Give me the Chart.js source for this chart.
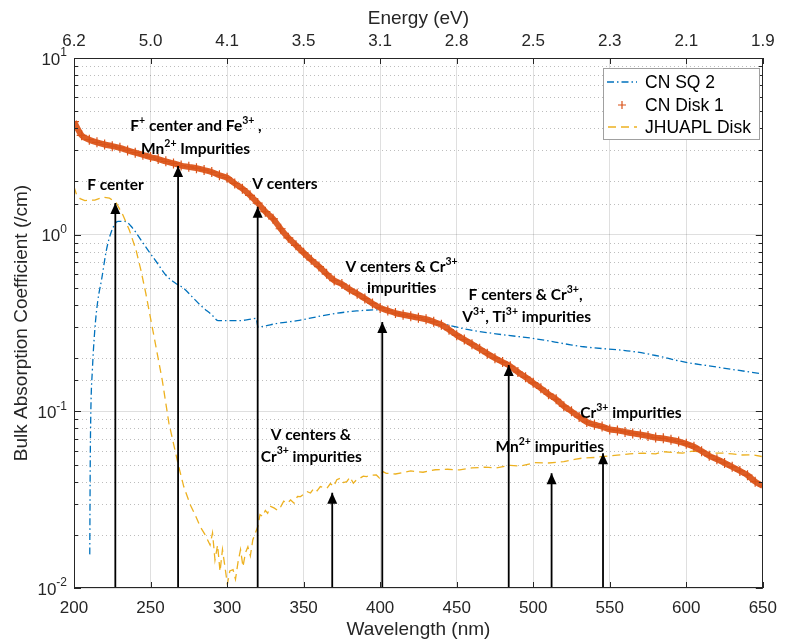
<!DOCTYPE html>
<html lang="en">
<head>
<meta charset="UTF-8">
<title>Bulk Absorption Coefficient</title>
<script src="https://cdn.jsdelivr.net/npm/chart.js"></script>
<style>
  body { margin: 0; background: #fff; }
  #wrap { width: 787px; height: 644px; position: relative; }
</style>
</head>
<body>
<div id="wrap"><canvas id="chart"></canvas></div>
<script>
// --- axis ticks ---
const wavelengthTicks = [200, 250, 300, 350, 400, 450, 500, 550, 600, 650];
const energyLabels = ['6.2', '5.0', '4.1', '3.5', '3.1', '2.8', '2.5', '2.3', '2.1', '1.9'];
const decadeValues = [10, 1, 0.1, 0.01];
const decadeExponents = ['1', '0', '-1', '-2'];

// --- CN SQ 2 ---
const cnSq2Wl = [210.3, 210.6, 211.0, 212.0, 213.6, 215.5, 218.0, 221.2, 224.4, 228.7, 233.0, 238.3, 243.7, 249.1,
  254.5, 259.9, 266.3, 271.7, 277.1, 283.5, 290.0, 294.3, 298.6, 307.2, 313.6, 319.0, 320.2, 333.0, 345.9,
  358.8, 371.7, 384.6, 397.5, 404.0, 416.9, 425.5, 436.3, 457.8, 479.3, 500.8, 524.5, 533.0, 565.4, 580.0,
  597.7, 620.0, 649.5];
const cnSq2Abs = [0.0155, 0.05, 0.1, 0.171, 0.29, 0.42, 0.555, 0.82, 1.04, 1.19, 1.19, 1.09, 0.933, 0.80,
  0.689, 0.591, 0.531, 0.497, 0.446, 0.392, 0.352, 0.326, 0.326, 0.326, 0.33, 0.336, 0.301, 0.315, 0.326,
  0.343, 0.359, 0.370, 0.375, 0.372, 0.35, 0.336, 0.32, 0.29, 0.272, 0.258, 0.238, 0.232, 0.218, 0.207,
  0.191, 0.178, 0.163];

// --- CN Disk 1 ---
const cnDiskWl = [200, 205, 210, 215, 220, 225, 230, 235, 240, 245, 250, 255, 260, 265, 270, 275, 280, 285,
  290, 295, 300, 305, 310, 315, 320, 325, 330, 335, 340, 345, 350, 355, 360, 365, 370, 375, 380, 385, 390,
  395, 400, 405, 410, 415, 420, 425, 430, 435, 440, 445, 450, 455, 460, 465, 470, 475, 480, 485, 490, 495,
  500, 505, 510, 515, 520, 525, 530, 535, 540, 545, 550, 555, 560, 565, 570, 575, 580, 585, 590, 595, 600,
  605, 610, 615, 620, 625, 630, 635, 640, 645, 650];
const cnDiskAbs = [4.36, 3.65, 3.45, 3.33, 3.24, 3.17, 3.10, 3.00, 2.91, 2.83, 2.75, 2.68, 2.60, 2.53, 2.46,
  2.42, 2.38, 2.32, 2.26, 2.17, 2.10, 1.95, 1.82, 1.67, 1.51, 1.35, 1.23, 1.08, 0.96, 0.87, 0.79, 0.72,
  0.66, 0.60, 0.55, 0.525, 0.49, 0.463, 0.435, 0.408, 0.385, 0.372, 0.360, 0.352, 0.345, 0.339, 0.332,
  0.321, 0.309, 0.290, 0.270, 0.255, 0.240, 0.226, 0.212, 0.200, 0.190, 0.180, 0.167, 0.156, 0.145, 0.135,
  0.125, 0.117, 0.107, 0.100, 0.093, 0.087, 0.084, 0.082, 0.079, 0.078, 0.0765, 0.075, 0.074, 0.0725,
  0.071, 0.0703, 0.069, 0.0675, 0.0655, 0.063, 0.0595, 0.056, 0.0535, 0.051, 0.0485, 0.046, 0.0435,
  0.040, 0.0378];

// --- JHUAPL Disk ---
const jhuWl = [200, 201.7, 204, 207.1, 213.6, 218.9, 223.2, 227.6, 231.8, 236.2, 240.5, 243.7, 246.9, 250.2,
  252.3, 257.6, 262.0, 268.4, 271.7, 276.0, 279.2, 282.4, 285.7, 288.9, 290.5, 292.1, 293.8, 295.4, 297,
  298.6, 300.2, 301.8, 303.9, 305.5, 307.2, 308.8, 310.4, 312, 313.6, 315.2, 316.8, 318.5, 320.1, 321.5,
  323.3, 325, 326.5, 328.5, 330.9, 333, 335.1, 337, 339.4, 341.5, 343.8, 346, 348.0, 350.2, 352.4, 354.5,
  356.7, 358.8, 360.9, 363, 365.3, 367.5, 369.6, 371.7, 373.9, 376, 378.2, 380.3, 382.5, 384.6, 386.8, 389,
  391.1, 394, 397.5, 399.5, 401.9, 404, 410, 420, 428, 436, 444, 452, 460, 468.6, 476, 485, 492, 501, 510,
  520, 527, 533, 540, 546, 555, 563, 572, 580, 584.8, 591, 597.7, 604, 610.6, 617, 623.5, 630, 636.4, 643,
  649.3];
const jhuAbs = [1.87, 1.68, 1.6, 1.56, 1.57, 1.63, 1.61, 1.51, 1.30, 1.06, 0.82, 0.63, 0.466, 0.329,
  0.265, 0.151, 0.0857, 0.0487, 0.0375, 0.0295, 0.0259, 0.0223, 0.020, 0.0175, 0.0205, 0.0144, 0.0175,
  0.0124, 0.0165, 0.0132, 0.0105, 0.0125, 0.0127, 0.0112, 0.0141, 0.0165, 0.0132, 0.0158, 0.0171, 0.0152,
  0.0187, 0.0205, 0.0223, 0.026, 0.0254, 0.0275, 0.0265, 0.029, 0.0283, 0.0275, 0.0289, 0.031, 0.0302,
  0.0315, 0.0302, 0.033, 0.0329, 0.034, 0.0351, 0.0345, 0.0367, 0.0355, 0.0375, 0.037, 0.0367, 0.039,
  0.0375, 0.041, 0.0418, 0.0395, 0.040, 0.0425, 0.0392, 0.041, 0.0418, 0.043, 0.0427, 0.0435, 0.0436,
  0.042, 0.0456, 0.0446, 0.0442, 0.046, 0.0452, 0.0467, 0.047, 0.0466, 0.0478, 0.0483, 0.0478, 0.0495,
  0.049, 0.0513, 0.051, 0.0519, 0.0535, 0.0545, 0.0548, 0.0555, 0.0565, 0.0575, 0.058, 0.0575, 0.0591,
  0.0585, 0.058, 0.0595, 0.059, 0.058, 0.058, 0.0575, 0.0566, 0.0568, 0.0555];

// --- annotation arrows (wavelength, tip value) ---
const arrowWl = [227, 268, 320, 368.7, 401.4, 484, 512, 545.6];
const arrowTip = [1.51, 2.45, 1.44, 0.0346, 0.32, 0.183, 0.0446, 0.058];

const labels = [
  { text: 'F center', wl: 227.1, v: 1.91 },
  { text: 'F^{+} center and Fe^{3+} ,', wl: 279.7, v: 4.12 },
  { text: 'Mn^{2+} Impurities', wl: 279.4, v: 3.04 },
  { text: 'V centers', wl: 337.8, v: 1.93 },
  { text: 'V centers & Cr^{3+}', wl: 414, v: 0.656 },
  { text: 'impurities', wl: 414, v: 0.499 },
  { text: 'F centers & Cr^{3+},', wl: 495, v: 0.456 },
  { text: 'V^{3+}, Ti^{3+} impurities', wl: 495.7, v: 0.343 },
  { text: 'Cr^{3+} impurities', wl: 563.8, v: 0.0975 },
  { text: 'V centers &', wl: 354.7, v: 0.0734 },
  { text: 'Cr^{3+} impurities', wl: 355, v: 0.0555 },
  { text: 'Mn^{2+} impurities', wl: 510.8, v: 0.063 }
];

const AXIS = '#262626';
const BLUE = '#0072BD', ORANGE = '#D95319', YELLOW = '#EDB120';
const BLUE_DASH = [7, 3, 1.5, 3], YELLOW_DASH = [8, 5];
const FONT = '"Liberation Sans", Arial, sans-serif';

const pts = (xs, ys) => xs.map((x, i) => ({ x: x, y: ys[i] }));
const isDecade = v => { const l = Math.log10(v); return Math.abs(l - Math.round(l)) < 1e-6; };

function drawRich(ctx, str, cx, cy) {
  const parts = str.split(/\^\{([^}]*)\}/);
  const base = 'bold 15.5px Lato, sans-serif', sup = 'bold 10.5px Lato, sans-serif';
  let total = 0;
  parts.forEach((p, i) => { ctx.font = i % 2 ? sup : base; total += ctx.measureText(p).width; });
  let x = cx - total / 2;
  ctx.textAlign = 'left';
  ctx.textBaseline = 'middle';
  parts.forEach((p, i) => {
    ctx.font = i % 2 ? sup : base;
    ctx.fillText(p, x, i % 2 ? cy - 5.5 : cy);
    x += ctx.measureText(p).width;
  });
}

const matlabLook = {
  id: 'matlabLook',
  beforeDatasetsDraw(chart) {
    const { ctx, chartArea: a, scales: { y } } = chart;
    ctx.save();
    ctx.strokeStyle = 'rgba(38,38,38,0.3)';
    ctx.lineWidth = 1;
    ctx.setLineDash([1, 3]);
    y.ticks.forEach(t => {
      if (isDecade(t.value)) return;
      const py = Math.round(y.getPixelForValue(t.value)) + 0.5;
      ctx.beginPath(); ctx.moveTo(a.left, py); ctx.lineTo(a.right, py); ctx.stroke();
    });
    ctx.restore();
  },
  afterDatasetsDraw(chart) {
    const { ctx, scales: { x, y } } = chart;
    ctx.save();
    ctx.fillStyle = '#000';
    arrowWl.forEach((w, i) => {
      const px = x.getPixelForValue(w), py = y.getPixelForValue(arrowTip[i]);
      ctx.beginPath();
      ctx.moveTo(px, py);
      ctx.lineTo(px - 5, py + 11);
      ctx.lineTo(px + 5, py + 11);
      ctx.closePath();
      ctx.fill();
    });
    labels.forEach(l => drawRich(ctx, l.text, x.getPixelForValue(l.wl), y.getPixelForValue(l.v)));
    ctx.restore();
  },
  afterDraw(chart) {
    const { ctx, chartArea: a, scales: { x, y } } = chart;
    ctx.save();
    ctx.strokeStyle = AXIS;
    ctx.lineWidth = 1;
    // box
    ctx.strokeRect(Math.round(a.left) + 0.5, Math.round(a.top) + 0.5,
      Math.round(a.right - a.left) - 1, Math.round(a.bottom - a.top) - 1);
    // inward ticks
    ctx.beginPath();
    wavelengthTicks.forEach(w => {
      const px = Math.round(x.getPixelForValue(w)) + 0.5;
      ctx.moveTo(px, a.bottom); ctx.lineTo(px, a.bottom - 6);
      ctx.moveTo(px, a.top); ctx.lineTo(px, a.top + 6);
    });
    y.ticks.forEach(t => {
      const py = Math.round(y.getPixelForValue(t.value)) + 0.5;
      const len = isDecade(t.value) ? 7 : 4;
      ctx.moveTo(a.left, py); ctx.lineTo(a.left + len, py);
      ctx.moveTo(a.right, py); ctx.lineTo(a.right - len, py);
    });
    ctx.stroke();
    // y tick labels with superscript exponents
    ctx.fillStyle = AXIS;
    ctx.textBaseline = 'middle';
    ctx.textAlign = 'left';
    decadeValues.forEach((v, i) => {
      const py = y.getPixelForValue(v);
      ctx.font = '12px ' + FONT;
      const ew = ctx.measureText(decadeExponents[i]).width;
      ctx.font = '17px ' + FONT;
      const bw = ctx.measureText('10').width;
      ctx.fillText('10', 67 - ew - bw, py + 2);
      ctx.font = '12px ' + FONT;
      ctx.fillText(decadeExponents[i], 67 - ew, py - 5);
    });
    // legend
    const lx = 603, ly = 68;
    ctx.fillStyle = '#fff';
    ctx.fillRect(lx, ly, 156, 71);
    ctx.strokeStyle = '#a0a0a0';
    ctx.strokeRect(lx + 0.5, ly + 0.5, 156, 71);
    const rows = [82, 105, 127];
    ctx.lineWidth = 1.3;
    ctx.strokeStyle = BLUE; ctx.setLineDash(BLUE_DASH);
    ctx.beginPath(); ctx.moveTo(607, rows[0]); ctx.lineTo(637, rows[0]); ctx.stroke();
    ctx.strokeStyle = YELLOW; ctx.setLineDash(YELLOW_DASH);
    ctx.beginPath(); ctx.moveTo(608, rows[2]); ctx.lineTo(637, rows[2]); ctx.stroke();
    ctx.setLineDash([]);
    ctx.strokeStyle = ORANGE; ctx.lineWidth = 1.2;
    ctx.beginPath();
    ctx.moveTo(618, rows[1]); ctx.lineTo(626, rows[1]);
    ctx.moveTo(622, rows[1] - 4); ctx.lineTo(622, rows[1] + 4);
    ctx.stroke();
    ctx.fillStyle = '#000';
    ctx.font = '17.5px ' + FONT;
    ['CN SQ 2', 'CN Disk 1', 'JHUAPL Disk'].forEach((t, i) => ctx.fillText(t, 645, rows[i] + 1));
    ctx.restore();
  }
};

const arrowSets = arrowWl.map((w, i) => ({
  data: [{ x: w, y: 0.01 }, { x: w, y: arrowTip[i] }],
  borderColor: '#000', borderWidth: 1.8, pointRadius: 0, order: 0
}));

new Chart(document.getElementById('chart'), {
  type: 'line',
  data: {
    datasets: [
      ...arrowSets,
      { label: 'CN Disk 1', data: pts(cnDiskWl, cnDiskAbs), borderColor: '#DE5E26', borderWidth: 6,
        cubicInterpolationMode: 'monotone',
        pointStyle: 'cross', pointRadius: 5, pointBorderWidth: 1.2, pointBorderColor: ORANGE, order: 1 },
      { label: 'JHUAPL Disk', data: pts(jhuWl, jhuAbs), borderColor: YELLOW, borderWidth: 1.3,
        borderDash: YELLOW_DASH, pointRadius: 0, order: 2 },
      { label: 'CN SQ 2', data: pts(cnSq2Wl, cnSq2Abs), borderColor: BLUE, borderWidth: 1.3,
        borderDash: BLUE_DASH, pointRadius: 0, cubicInterpolationMode: 'monotone', order: 3 }
    ]
  },
  options: {
    responsive: true,
    maintainAspectRatio: false,
    animation: false,
    layout: { padding: { left: 0, right: 16, top: 0, bottom: 0 } },
    plugins: { legend: { display: false }, tooltip: { enabled: false } },
    scales: {
      x: {
        type: 'linear', position: 'bottom', min: 200, max: 650,
        ticks: { stepSize: 50, padding: 10, color: AXIS, font: { family: FONT, size: 17 } },
        grid: { color: 'rgba(38,38,38,0.15)', drawTicks: false },
        border: { display: false },
        title: { display: true, text: 'Wavelength (nm)', color: AXIS,
          font: { family: FONT, size: 19 }, padding: { top: 0, bottom: 3 } },
        afterFit: s => { s.height = 56; }
      },
      x2: {
        type: 'linear', position: 'top', min: 200, max: 650,
        ticks: { stepSize: 50, padding: 6, color: AXIS, font: { family: FONT, size: 17 },
          callback: v => energyLabels[wavelengthTicks.indexOf(v)] ?? '' },
        grid: { drawOnChartArea: false, drawTicks: false },
        border: { display: false },
        title: { display: true, text: 'Energy (eV)', color: AXIS,
          font: { family: FONT, size: 19 }, padding: { top: 7, bottom: 0 } },
        afterFit: s => { s.height = 58; }
      },
      y: {
        type: 'logarithmic', min: 0.01, max: 10,
        ticks: { display: false, autoSkip: false },
        grid: { drawTicks: false,
          color: c => (c.tick && isDecade(c.tick.value)) ? 'rgba(38,38,38,0.15)' : 'rgba(0,0,0,0)' },
        border: { display: false },
        title: { display: true, text: 'Bulk Absorption Coefficient (/cm)', color: AXIS,
          font: { family: FONT, size: 19 }, padding: { top: 10, bottom: 0 } },
        afterFit: s => { s.width = 74; }
      }
    }
  },
  plugins: [matlabLook]
});
</script>
</body>
</html>
